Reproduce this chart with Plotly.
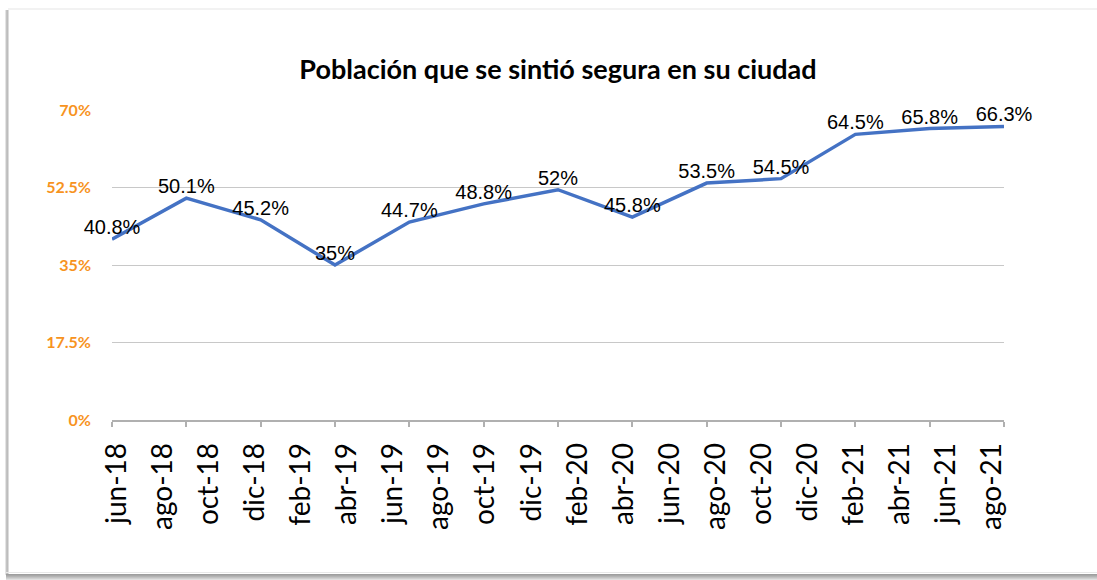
import plotly.graph_objects as go

# ---- data ----
survey_index = [0, 1, 2, 3, 4, 5, 6, 7, 8, 9, 10, 11, 12]
pct_safe = [40.8, 50.1, 45.2, 35, 44.7, 48.8, 52, 45.8, 53.5, 54.5, 64.5, 65.8, 66.3]
point_labels = ["40.8%", "50.1%", "45.2%", "35%", "44.7%", "48.8%", "52%",
                "45.8%", "53.5%", "54.5%", "64.5%", "65.8%", "66.3%"]
date_labels = ["jun-18", "ago-18", "oct-18", "dic-18", "feb-19", "abr-19", "jun-19",
               "ago-19", "oct-19", "dic-19", "feb-20", "abr-20", "jun-20", "ago-20",
               "oct-20", "dic-20", "feb-21", "abr-21", "jun-21", "ago-21"]
y_ticks = [0, 17.5, 35, 52.5, 70]
y_tick_text = ["0%", "17.5%", "35%", "52.5%", "70%"]

# date labels are spread evenly across the category axis (Excel style)
lab_start, lab_step = 0.067, 0.6195
date_positions = [lab_start + lab_step * i for i in range(len(date_labels))]

W, H = 1097, 580
L, R, T, B = 112, 93, 110, 160
PW, PH = W - L - R, H - T - B


def px_x(px):
    return (px - L) / PW


def px_y(py):
    return (H - B - py) / PH


fig = go.Figure()
fig.add_trace(go.Scatter(
    x=survey_index, y=pct_safe, mode="lines+text",
    line=dict(color="#4472C4", width=3.5),
    text=point_labels, textposition="top center",
    textfont=dict(family="Liberation Sans, Arial, sans-serif", size=20, color="#000000"),
    hoverinfo="skip", showlegend=False, cliponaxis=False,
))

fig.update_layout(
    width=W, height=H,
    margin=dict(l=L, r=R, t=T, b=B),
    paper_bgcolor="white", plot_bgcolor="white",
    title=dict(text="<b>Población que se sintió segura en su ciudad</b>",
               x=0.5, xref="paper", xanchor="center",
               y=1 - 70 / H, yref="container", yanchor="middle",
               font=dict(family="Lato, sans-serif", size=27, color="#000000")),
    xaxis=dict(range=[0, 12], tickmode="array", tickvals=date_positions,
               ticktext=date_labels, tickangle=-90, ticks="",
               tickfont=dict(family="Lato, sans-serif", size=28, color="#000000"),
               showgrid=False, zeroline=False, showline=True,
               linecolor="#B0B0B0", linewidth=1.5,
               minor=dict(tickmode="linear", tick0=0, dtick=1, ticks="outside",
                          ticklen=5, tickcolor="#B0B0B0", tickwidth=1.5, showgrid=False),
               ticklabelstandoff=10),
    yaxis=dict(range=[0, 70], tickmode="array", tickvals=y_ticks, ticktext=y_tick_text,
               showgrid=True, gridcolor="#C8C8C8", gridwidth=1.2, zeroline=False,
               showline=False, ticks="",
               tickfont=dict(family="Lato, sans-serif", size=16, color="#F7931E", weight="bold"),
               ticklabelstandoff=20),
)

# card frame / drop shadow
frame = []
for px, col in [(5, "#E4E4E4"), (6, "#C4C4C4"), (7, "#BDBDBD"), (8, "#DCDCDC")]:
    frame.append(dict(type="rect", xref="paper", yref="paper",
                      x0=px_x(px), x1=px_x(px + 1), y0=px_y(575), y1=px_y(10),
                      line=dict(width=0), fillcolor=col, layer="above"))
frame.append(dict(type="rect", xref="paper", yref="paper",
                  x0=px_x(8), x1=px_x(W), y0=px_y(10), y1=px_y(8),
                  line=dict(width=0), fillcolor="#F2F2F2", layer="above"))
for py, col in [(572, "#E8E8E8"), (574, "#9E9E9E"), (575, "#A8A8A8"), (576, "#B4B4B4"),
                (577, "#C2C2C2"), (578, "#D0D0D0"), (579, "#E0E0E0")]:
    frame.append(dict(type="rect", xref="paper", yref="paper",
                      x0=px_x(6), x1=px_x(W), y0=px_y(py + 1), y1=px_y(py),
                      line=dict(width=0), fillcolor=col, layer="above"))
fig.update_layout(shapes=frame)

fig.write_html("out.html", config={"displayModeBar": False},
               post_script="document.body.style.margin='0';document.body.style.overflow='hidden';")
